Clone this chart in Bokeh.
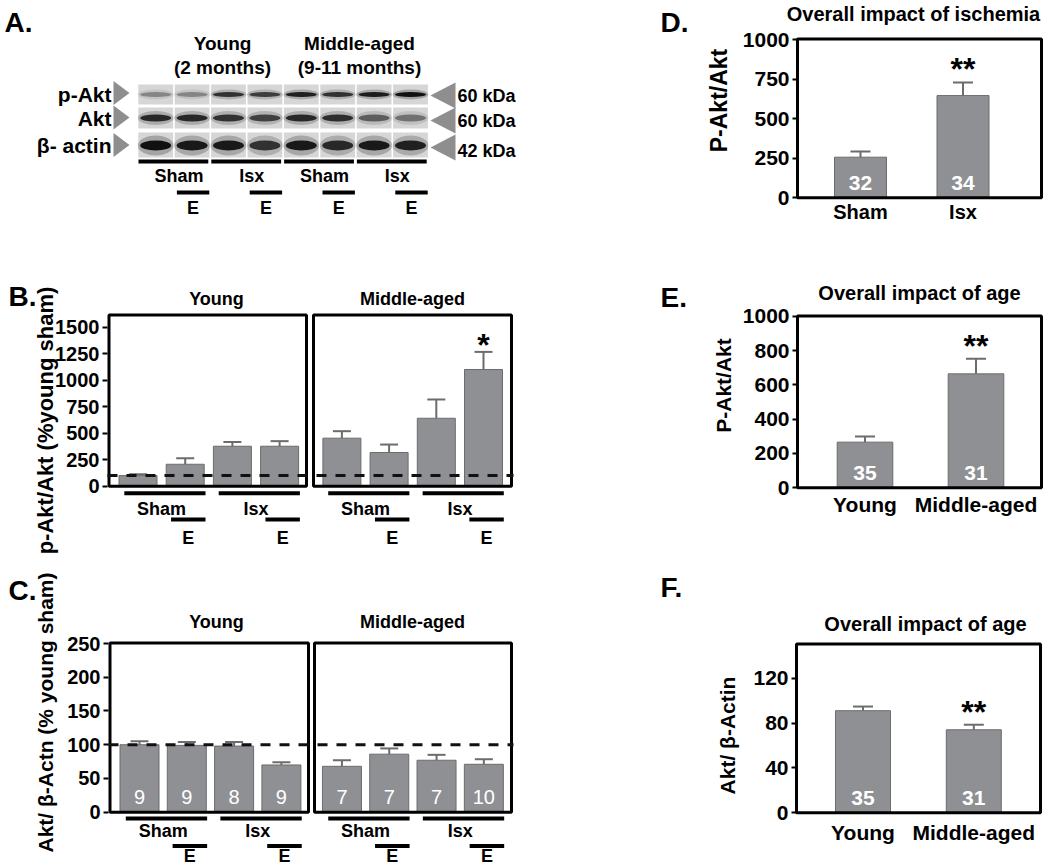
import math
from bokeh.plotting import figure
from bokeh.models import Range1d, FixedTicker, LinearAxis, ColumnDataSource
from bokeh.core.properties import value
from bokeh.embed import file_html
from bokeh.resources import INLINE

# ----------------------------- data -----------------------------
age_groups = ["Young", "Middle-aged"]
treat_words = ["Sham", "Isx"]

# Panel B: p-Akt/Akt (% young sham); order Sham, Sham+E, Isx, Isx+E (Young, then Middle-aged)
pakt_pct = [100, 207, 377, 377, 453, 318, 641, 1101]
pakt_pct_err = [13, 57, 41, 48, 66, 75, 177, 166]
b_ticks = [0, 250, 500, 750, 1000, 1250, 1500]

# Panel C: Akt/beta-actin (% young sham)
akt_pct = [100, 99, 98, 70, 68, 86, 77, 71]
akt_pct_err = [5, 5, 6, 4, 9, 8.5, 8, 7.5]
akt_pct_n = ["9", "9", "8", "9", "7", "7", "7", "10"]
c_ticks = [0, 50, 100, 150, 200, 250]
reference_pct = 100

# Panel D
d_cats = ["Sham", "Isx"]
d_vals = [257, 647]
d_errs = [36, 83]
d_n = ["32", "34"]
d_ticks = [0, 250, 500, 750, 1000]

# Panel E
e_cats = ["Young", "Middle-aged"]
e_vals = [266, 664]
e_errs = [33, 88]
e_n = ["35", "31"]
e_ticks = [0, 200, 400, 600, 800, 1000]

# Panel F
f_cats = ["Young", "Middle-aged"]
f_vals = [91, 74]
f_errs = [3.7, 4.5]
f_n = ["35", "31"]
f_ticks = [0, 40, 80, 120]

# Panel A: western blot (relative band intensity per lane)
blot_rows = ["p-Akt", "Akt", "β- actin"]
blot_kda = ["60 kDa", "60 kDa", "42 kDa"]
band_pakt = [0.35, 0.35, 0.8, 0.72, 0.9, 0.8, 0.92, 1.0]
band_akt = [0.85, 0.85, 0.8, 0.7, 0.85, 0.82, 0.55, 0.45]
band_actin = [1.0, 0.95, 0.95, 0.8, 0.95, 0.85, 0.95, 0.9]
blot_heads = ["Young", "(2 months)", "Middle-aged", "(9-11 months)"]

# ----------------------------- style -----------------------------
SANS = "Liberation Sans"
BAR_FILL = "#8f9094"
BAR_EDGE = "#6c6c6c"
ERR_COL = "#6c6c6c"
W, H = 1048, 865

p = figure(width=W, height=H, x_range=Range1d(0, W), y_range=Range1d(H, 0),
           output_backend="svg", toolbar_location=None, x_axis_location=None,
           y_axis_location=None, min_border=0, outline_line_color=None)
p.grid.visible = False


def txt(xs, ys, texts, size, style="bold", color="black", align="center",
        baseline="middle", y_offset=0, angle=0.0, xr="default", yr="default"):
    src = ColumnDataSource(dict(x=list(xs), y=list(ys), t=list(texts)))
    p.text(x="x", y="y", text="t", source=src, text_font=value(SANS),
           text_font_style=style, text_font_size=size, text_color=color,
           text_align=align, text_baseline=baseline, y_offset=y_offset, angle=angle,
           x_range_name=xr, y_range_name=yr)


class Panel:
    """A sub-chart sharing the page canvas through its own x and y ranges."""

    def __init__(self, name, x_px0, x_ppu, y_zero, y_ppu):
        self.name = name
        self.x_px0, self.x_ppu, self.y_zero, self.y_ppu = x_px0, x_ppu, y_zero, y_ppu
        p.extra_x_ranges[name] = Range1d(self.xv(0), self.xv(W))
        p.extra_y_ranges[name] = Range1d(self.yv(H), self.yv(0))

    def xv(self, px):
        return (px - self.x_px0) / self.x_ppu

    def yv(self, py):
        return (self.y_zero - py) / self.y_ppu

    def kw(self):
        return dict(x_range_name=self.name, y_range_name=self.name)

    def bars(self, xs, vals, errs, bar_w_px, cap_px=18):
        src = ColumnDataSource(dict(x=xs, top=vals, up=[v + e for v, e in zip(vals, errs)],
                                    cl=[x - cap_px / 2 / self.x_ppu for x in xs],
                                    cr=[x + cap_px / 2 / self.x_ppu for x in xs]))
        p.vbar(x="x", top="top", bottom=0, width=bar_w_px / self.x_ppu, source=src,
               fill_color=BAR_FILL, line_color=BAR_EDGE, line_width=1, **self.kw())
        p.segment(x0="x", y0="top", x1="x", y1="up", source=src, line_color=ERR_COL,
                  line_width=2, **self.kw())
        p.segment(x0="cl", y0="up", x1="cr", y1="up", source=src, line_color=ERR_COL,
                  line_width=2, **self.kw())

    def box(self, lefts_px, rights_px, top_px):
        p.quad(left=[self.xv(v) for v in lefts_px], right=[self.xv(v) for v in rights_px],
               bottom=[0] * len(lefts_px), top=[self.yv(top_px)] * len(lefts_px),
               fill_color=None, line_color="black", line_width=3, **self.kw())

    def yaxis(self, axis_px, ticks, tick_size):
        ax = LinearAxis(y_range_name=self.name, fixed_location=axis_px,
                        ticker=FixedTicker(ticks=ticks))
        ax.axis_line_color = None
        ax.major_tick_out = 5
        ax.major_tick_in = 0
        ax.major_tick_line_width = 2
        ax.major_tick_line_color = "black"
        ax.minor_tick_line_color = None
        ax.major_label_text_font = SANS
        ax.major_label_text_font_style = "bold"
        ax.major_label_text_font_size = tick_size
        ax.major_label_text_color = "black"
        ax.major_label_standoff = 3
        p.add_layout(ax, "left")

    def xaxis(self, zero_py, ticks, labels, size, standoff):
        ax = LinearAxis(x_range_name=self.name, fixed_location=zero_py,
                        ticker=FixedTicker(ticks=ticks))
        ax.major_label_overrides = {t: s for t, s in zip(ticks, labels)}
        ax.axis_line_color = None
        ax.major_tick_line_color = None
        ax.minor_tick_line_color = None
        ax.major_label_text_font = SANS
        ax.major_label_text_font_style = "bold"
        ax.major_label_text_font_size = size
        ax.major_label_text_color = "black"
        ax.major_label_standoff = standoff
        p.add_layout(ax, "below")


# ----------------------------- panel A: blot -----------------------------
lane0, lw = 137.0, 36.4
cx = [lane0 + lw * (i + 0.5) for i in range(8)]
row_top = [84, 107, 132]
row_bot = [104, 128, 157]
row_c = [94, 117.5, 145]
band_h = [5, 7, 10]
for r, inten in enumerate([band_pakt, band_akt, band_actin]):
    p.quad(left=[c - lw / 2 + 0.8 for c in cx], right=[c + lw / 2 - 0.8 for c in cx],
           top=[row_top[r]] * 8, bottom=[row_bot[r]] * 8, fill_color="#d6d6d6", line_color=None)
    p.ellipse(x=cx, y=[row_c[r]] * 8, width=lw * 0.98, height=band_h[r] * 2.0,
              fill_color="#333333", fill_alpha=[a * 0.3 for a in inten], line_color=None)
    p.ellipse(x=cx, y=[row_c[r]] * 8, width=lw * 0.85, height=band_h[r],
              fill_color="#111111", fill_alpha=inten, line_color=None)
lt_y = [92.5, 117, 144.5]
rt_y = [95, 120, 147]
p.patches(xs=[[113, 113, 129] for _ in lt_y], ys=[[y - 12, y + 12, y] for y in lt_y],
          fill_color="#8e8e8e", line_color=None)
p.patches(xs=[[455, 455, 430] for _ in rt_y], ys=[[y - 13, y + 13, y] for y in rt_y],
          fill_color="#8e8e8e", line_color=None)
txt([111] * 3, [94, 118, 145], blot_rows, "21px", align="right")
txt([457] * 3, [95, 120, 150], blot_kda, "18px", align="left")
txt([222, 222, 359, 359], [43, 67, 43, 67], blot_heads, "19px")
ax0, ax1, ay, awx, aex = [], [], [], [], []
for g in range(4):
    a = lane0 + lw * 2 * g
    ax0 += [a + 1, a + lw + 3]
    ax1 += [a + 2 * lw - 2, a + 2 * lw - 1]
    ay += [161, 192]
    awx.append(a + lw + 5)
    aex.append(a + lw * 1.5 + 1)
p.segment(x0=ax0, y0=ay, x1=ax1, y1=ay, line_color="black", line_width=4)
txt(awx, [175] * 4, treat_words * 2, "18px")
txt(aex, [207] * 4, ["E"] * 4, "18px")


# ----------------------------- panels B & C -----------------------------
def grouped(pn, gap, means, errs, bar_w, boxes, box_top, axis_px, ticks, dash_px,
            line_y, eline_y, word_y, etext_y):
    xs = [i + gap * g for g in range(2) for i in range(4)]
    pn.bars(xs, means, errs, bar_w)
    pn.box([b[0] for b in boxes], [b[1] for b in boxes], box_top)
    p.segment(x0=[pn.xv(dash_px[0])], y0=[reference_pct], x1=[pn.xv(dash_px[1])],
              y1=[reference_pct], line_color="#111111", line_width=3, line_dash="10 9", **pn.kw())
    pn.yaxis(axis_px, ticks, "20px")
    x0s, x1s, ys, wx, ex = [], [], [], [], []
    for g in range(2):
        for k in range(2):
            a, b = xs[g * 4 + 2 * k], xs[g * 4 + 2 * k + 1]
            x0s += [a - 0.29, b - 0.3]
            x1s += [b + 0.43, b + 0.43]
            ys += [pn.yv(line_y), pn.yv(eline_y)]
            wx.append((a + b) / 2)
            ex.append(b + 0.065)
    p.segment(x0=x0s, y0=ys, x1=x1s, y1=ys, line_color="black", line_width=4, **pn.kw())
    txt(wx, [pn.yv(word_y)] * 4, treat_words * 2, "18px", xr=pn.name, yr=pn.name)
    txt(ex, [pn.yv(etext_y)] * 4, ["E"] * 4, "18px", xr=pn.name, yr=pn.name)
    return xs


pB = Panel("B", 137.5, 47.2, 485.7, 0.106)
xsB = grouped(pB, 4.32, pakt_pct, pakt_pct_err, 38, [(108.5, 306), (313, 511)], 314.5, 107,
              b_ticks, (107, 513), 492.7, 519, 508, 537)
txt([pB.xv(216), pB.xv(412)], [pB.yv(298)] * 2, age_groups, "18px", xr="B", yr="B")
txt([xsB[7]], [pakt_pct[7] + pakt_pct_err[7]], ["*"], "32px", baseline="alphabetic",
    y_offset=-7, xr="B", yr="B")
txt([45], [420], ["p-Akt/Akt (%young sham)"], "22px", angle=math.pi / 2)
txt([8], [296], ["B."], "28px", align="left")

pC = Panel("C", 139, 47.3, 811.7, 0.6748)
xsC = grouped(pC, 4.28, akt_pct, akt_pct_err, 39, [(109.5, 308), (314, 511)], 642.5, 108,
              c_ticks, (108, 513), 818, 845.5, 830, 855)
txt([pC.xv(216), pC.xv(412)], [pC.yv(621.5)] * 2, age_groups, "18px", xr="C", yr="C")
txt(xsC, [0] * 8, akt_pct_n, "20px", style="normal", color="white", y_offset=-15, xr="C", yr="C")
txt([45], [712], ["Akt/ β-Actn (% young sham)"], "21px", angle=math.pi / 2)
txt([8], [590], ["C."], "28px", align="left")
txt([4], [22], ["A."], "28px", align="left")


# ----------------------------- panels D, E, F -----------------------------
def simple(pn, cats, vals, errs, n, ticks, bar_w, box_px, zero_py, top_py, xlab_size, xlab_standoff):
    xs = [i + 0.5 for i in range(len(cats))]
    pn.bars(xs, vals, errs, bar_w, cap_px=20)
    pn.box([box_px[0]], [box_px[1]], top_py)
    pn.yaxis(box_px[0], ticks, "21px")
    pn.xaxis(zero_py, xs, cats, xlab_size, xlab_standoff)
    txt(xs, [0] * 2, n, "21px", color="white", y_offset=-15, xr=pn.name, yr=pn.name)
    txt([xs[1]], [vals[1] + errs[1]], ["**"], "32px", baseline="alphabetic", y_offset=-13,
        xr=pn.name, yr=pn.name)


pD = Panel("D", 860 - 0.5 * 102.5, 102.5, 197.3, 0.158)
simple(pD, d_cats, d_vals, d_errs, d_n, d_ticks, 52, (797, 1041), 197.3, 38.5, "20px", -3)
txt([913], [13], ["Overall impact of ischemia"], "20px")
txt([718], [100], ["P-Akt/Akt"], "23px", angle=math.pi / 2)
txt([660], [22], ["D."], "28px", align="left")

pE = Panel("E", 864.5 - 0.5 * 111, 111, 487.3, 0.1716)
simple(pE, e_cats, e_vals, e_errs, e_n, e_ticks, 55.6, (797, 1041), 487.3, 315.5, "21px", -1)
txt([919], [292], ["Overall impact of age"], "20px")
txt([723], [385], ["P-Akt/Akt"], "21px", angle=math.pi / 2)
txt([660], [297], ["E."], "28px", align="left")

pF = Panel("F", 862.5 - 0.5 * 110.8, 110.8, 812.3, 1.122)
simple(pF, f_cats, f_vals, f_errs, f_n, f_ticks, 55, (796, 1040), 812.3, 643.5, "21px", 2)
txt([925], [623], ["Overall impact of age"], "20px")
txt([727], [735], ["Akt/ β-Actin"], "21px", angle=math.pi / 2)
txt([660], [587], ["F."], "28px", align="left")

open("out.html", "w").write(file_html(p, INLINE))
